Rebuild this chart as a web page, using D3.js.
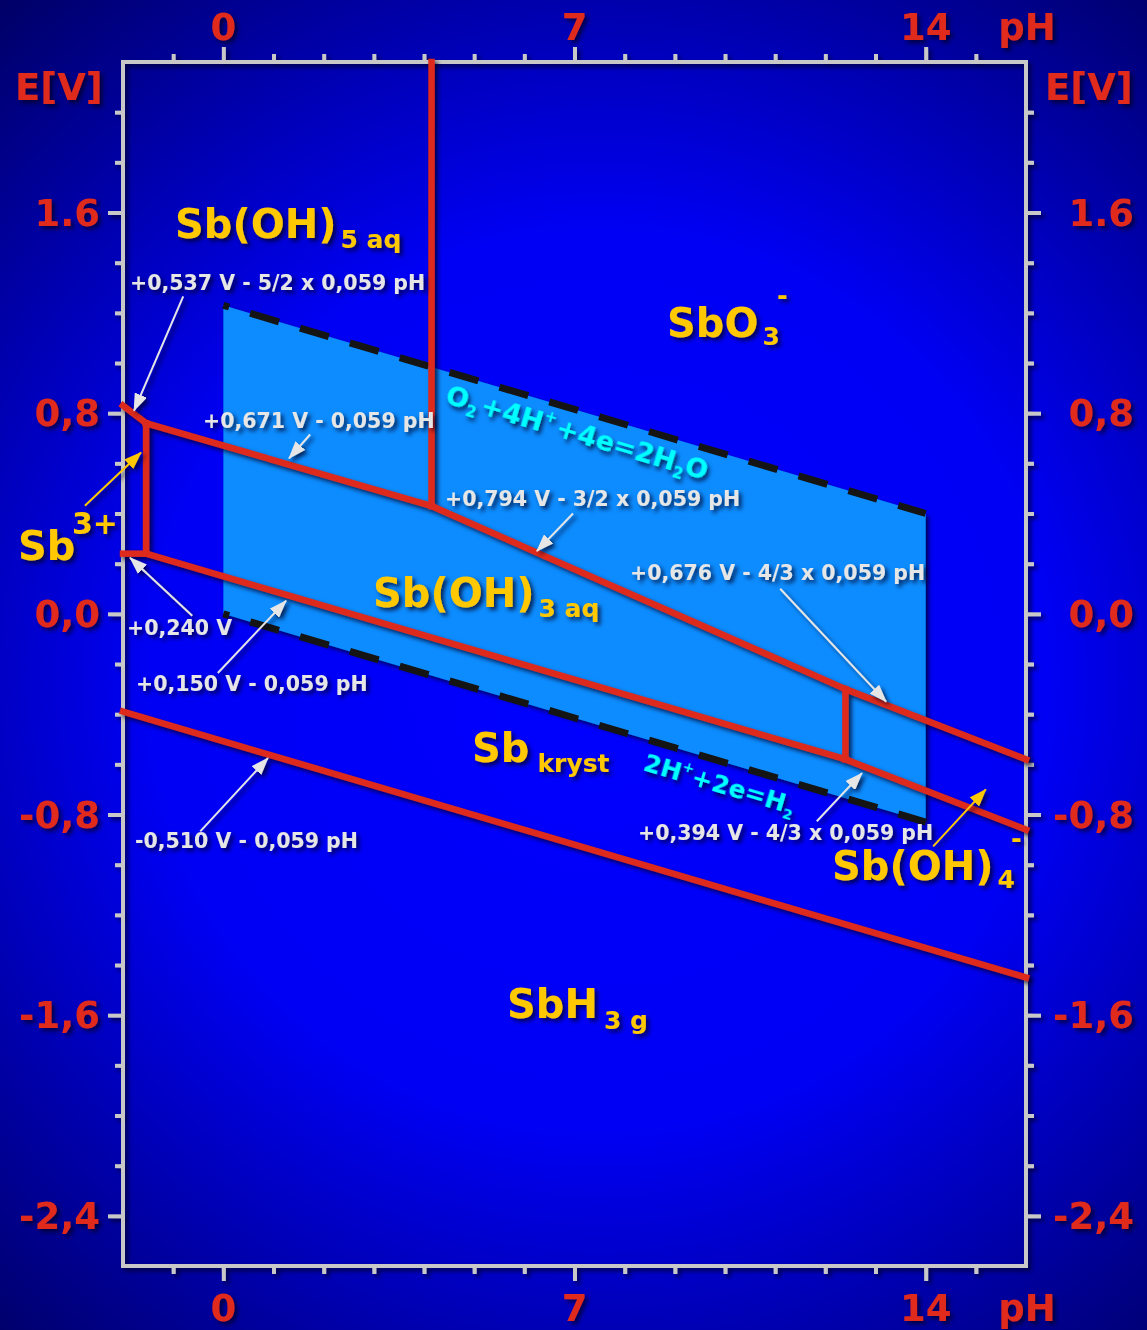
<!DOCTYPE html>
<html>
<head>
<meta charset="utf-8">
<script src="https://cdn.jsdelivr.net/npm/d3@7"></script>
<style>
  body { margin: 0; background: #000080; }
  svg { display: block; }
  text { font-family: "DejaVu Sans", Verdana, sans-serif; font-weight: bold; }
</style>
</head>
<body>
<div id="chart"></div>
<script>
// Pourbaix diagram of antimony (Sb) - E [V] vs pH

const width = 1147;
const height = 1330;

// axis values
const xMajorTicks = [0, 7, 14];
const yMajorTicks = [1.6, 0.8, 0, -0.8, -1.6, -2.4];
const yTickLabels = ["1.6", "0,8", "0,0", "-0,8", "-1,6", "-2,4"];

// water stability region (pH, E)
const waterO2 = [[0, 1.23], [14, 0.40]];
const waterH2 = [[0, 0.00], [14, -0.83]];

// phase boundaries (pH, E)
const bSb3Sb5   = [[-2, 0.83], [-1.54, 0.76]];
const bSb3Vert  = [[-1.54, 0.76], [-1.54, 0.24]];
const bSb3Sb    = [[-2, 0.24], [-1.54, 0.24]];
const bSb5Sb3aq = [[-1.54, 0.76], [4.15, 0.43]];
const bSb5SbO3  = [[4.15, 2.2], [4.15, 0.43]];
const bSbO3Sb3  = [[4.15, 0.43], [12.4, -0.30]];
const bSb3Sb4   = [[12.4, -0.30], [12.4, -0.58]];
const bSb3aqSb  = [[-1.54, 0.24], [12.4, -0.58]];
const bSbO3Sb4  = [[12.4, -0.30], [16, -0.58]];
const bSb4Sb    = [[12.4, -0.58], [16, -0.86]];
const bSbSbH3   = [[-2, -0.39], [16, -1.45]];

const boundaries = [bSb3Sb5, bSb3Vert, bSb3Sb, bSb5Sb3aq, bSb5SbO3, bSbO3Sb3,
                    bSb3Sb4, bSb3aqSb, bSbO3Sb4, bSb4Sb, bSbSbH3];

// equation labels: text and the arrow (tail, head) in pH / E
const eqLabels = ["+0,537 V - 5/2 x 0,059 pH", "+0,671 V - 0,059 pH",
                  "+0,794 V - 3/2 x 0,059 pH", "+0,676 V - 4/3 x 0,059 pH",
                  "+0,240 V", "+0,150 V - 0,059 pH",
                  "-0,510 V - 0,059 pH", "+0,394 V - 4/3 x 0,059 pH"];
const eqArrows = [[[-0.80, 1.266], [-1.78, 0.81]],
                  [[1.73, 0.715], [1.31, 0.62]],
                  [[6.97, 0.40], [6.25, 0.25]],
                  [[11.10, 0.10], [13.21, -0.35]],
                  [[-0.62, -0.008], [-1.86, 0.224]],
                  [[-0.11, -0.236], [1.25, 0.052]],
                  [[-0.46, -0.867], [0.89, -0.575]],
                  [[11.83, -0.827], [12.73, -0.635]]];
const speciesArrows = [[[-2.76, 0.431], [-1.64, 0.643]],
                       [[14.15, -0.927], [15.20, -0.70]]];

const svg = d3.select("#chart").append("svg")
    .attr("width", width)
    .attr("height", height);

const defs = svg.append("defs");
const bg = defs.append("radialGradient").attr("id", "bg")
    .attr("gradientUnits", "userSpaceOnUse")
    .attr("cx", 600).attr("cy", 680).attr("r", 900);
bg.append("stop").attr("offset", 0).attr("stop-color", "#0000ff");
bg.append("stop").attr("offset", 0.5).attr("stop-color", "#0000f4");
bg.append("stop").attr("offset", 1).attr("stop-color", "#000068");

const shadow = defs.append("filter").attr("id", "shadow")
    .attr("x", "-20%").attr("y", "-20%").attr("width", "140%").attr("height", "140%");
shadow.append("feDropShadow").attr("dx", 3).attr("dy", 3)
    .attr("stdDeviation", 2).attr("flood-color", "#000020").attr("flood-opacity", 0.75);

function addMarker(id, color) {
    defs.append("marker").attr("id", id)
        .attr("viewBox", "0 0 18 13").attr("refX", 17).attr("refY", 6.5)
        .attr("markerWidth", 18).attr("markerHeight", 13)
        .attr("markerUnits", "userSpaceOnUse").attr("orient", "auto")
        .append("path").attr("d", "M0,0 L18,6.5 L0,13 Z").attr("fill", color);
}
addMarker("arrowW", "#e6e6e6");
addMarker("arrowY", "#ffc800");

svg.append("rect").attr("width", width).attr("height", height).attr("fill", "url(#bg)");

const x = d3.scaleLinear().domain([-2, 16]).range([123, 1026]);
const y = d3.scaleLinear().domain([2.2, -2.6]).range([62, 1266]);
const line = d3.line().x(d => x(d[0])).y(d => y(d[1]));

// water region
const water = waterO2.concat(waterH2.slice().reverse());
svg.append("path").attr("d", line(water) + "Z")
    .attr("fill", "#0a8cff").attr("filter", "url(#shadow)");

[waterO2, waterH2].forEach(function(d) {
    svg.append("path").attr("d", line(d))
        .attr("fill", "none").attr("stroke", "#141414")
        .attr("stroke-width", 7).attr("stroke-dasharray", "30,22")
        .attr("stroke-dashoffset", 24);
});

// axes
const axisColor = "#c8c8c8";
const minorX = d3.range(-1, 16).filter(v => !xMajorTicks.includes(v));
const minorY = d3.range(-12, 11).map(v => +(v * 0.2).toFixed(1)).filter(v => !yMajorTicks.includes(v));

function styleAxis(g) {
    g.select(".domain").remove();
    g.selectAll("line").attr("stroke", axisColor).attr("stroke-width", 4);
    g.selectAll("text").remove();
}
const axes = svg.append("g").attr("filter", "url(#shadow)");
axes.append("g").attr("transform", `translate(0,${y.range()[0]})`)
    .call(d3.axisTop(x).tickValues(minorX).tickSize(8)).call(styleAxis);
axes.append("g").attr("transform", `translate(0,${y.range()[0]})`)
    .call(d3.axisTop(x).tickValues(xMajorTicks).tickSize(15)).call(styleAxis);
axes.append("g").attr("transform", `translate(0,${y.range()[1]})`)
    .call(d3.axisBottom(x).tickValues(minorX).tickSize(8)).call(styleAxis);
axes.append("g").attr("transform", `translate(0,${y.range()[1]})`)
    .call(d3.axisBottom(x).tickValues(xMajorTicks).tickSize(15)).call(styleAxis);
axes.append("g").attr("transform", `translate(${x.range()[0]},0)`)
    .call(d3.axisLeft(y).tickValues(minorY).tickSize(8)).call(styleAxis);
axes.append("g").attr("transform", `translate(${x.range()[0]},0)`)
    .call(d3.axisLeft(y).tickValues(yMajorTicks).tickSize(15)).call(styleAxis);
axes.append("g").attr("transform", `translate(${x.range()[1]},0)`)
    .call(d3.axisRight(y).tickValues(minorY).tickSize(8)).call(styleAxis);
axes.append("g").attr("transform", `translate(${x.range()[1]},0)`)
    .call(d3.axisRight(y).tickValues(yMajorTicks).tickSize(15)).call(styleAxis);
axes.append("rect")
    .attr("x", x.range()[0]).attr("y", y.range()[0])
    .attr("width", x.range()[1] - x.range()[0]).attr("height", y.range()[1] - y.range()[0])
    .attr("fill", "none").attr("stroke", axisColor).attr("stroke-width", 4);

// boundary lines
svg.append("g").attr("filter", "url(#shadow)")
    .selectAll("path").data(boundaries).join("path")
    .attr("d", line)
    .attr("fill", "none").attr("stroke", "#dd2a1e")
    .attr("stroke-width", 6.5).attr("stroke-linecap", "square");

// tick labels
const red = "#e02a1e";
const labels = svg.append("g").attr("filter", "url(#shadow)")
    .attr("fill", red).attr("font-size", 37);
labels.selectAll(".xt").data(xMajorTicks).join("text")
    .attr("x", d => x(d)).attr("y", 40).attr("text-anchor", "middle").text(d => d);
labels.selectAll(".xb").data(xMajorTicks).join("text")
    .attr("x", d => x(d)).attr("y", 1321).attr("text-anchor", "middle").text(d => d);
[40, 1321].forEach(function(yy) {
    labels.append("text").attr("x", 1027).attr("y", yy).attr("text-anchor", "middle").text("pH");
});
yMajorTicks.forEach(function(v, i) {
    labels.append("text").attr("x", 100).attr("y", y(v)).attr("dy", "0.36em")
        .attr("text-anchor", "end").text(yTickLabels[i]);
    labels.append("text").attr("x", 1134).attr("y", y(v)).attr("dy", "0.36em")
        .attr("text-anchor", "end").text(yTickLabels[i]);
});
labels.append("text").attr("x", 15).attr("y", 100).text("E[V]");
labels.append("text").attr("x", 1045).attr("y", 100).text("E[V]");

// species labels
const gold = "#ffc800";
const species = svg.append("g").attr("filter", "url(#shadow)").attr("fill", gold);
function speciesLabel(px, py, main, sub, sup, opts) {
    opts = opts || {};
    const t = species.append("text").attr("x", px).attr("y", py).attr("font-size", 40);
    t.append("tspan").text(main);
    if (sub) t.append("tspan").attr("dx", opts.subDx || 4).attr("dy", opts.subDy || 10)
        .attr("font-size", 25).text(sub);
    if (sup) {
        species.append("text").attr("x", opts.supX).attr("y", opts.supY)
            .attr("font-size", opts.supSize || 26).text(sup);
    }
}
speciesLabel(175, 238, "Sb(OH)", "5 aq");
speciesLabel(667, 337, "SbO", "3", "-", {supX: 777, supY: 305, subDy: 8});
speciesLabel(18, 560, "Sb", null, "3+", {supX: 72, supY: 534, supSize: 30});
speciesLabel(373, 607, "Sb(OH)", "3 aq");
speciesLabel(472, 762, "Sb", "kryst", null, {subDx: 8});
speciesLabel(832, 880, "Sb(OH)", "4", "-", {supX: 1011, supY: 848, subDy: 8});
speciesLabel(507, 1018, "SbH", "3 g", null, {subDx: 6, subDy: 11});

// water reactions (cyan, along the dashed lines)
const cyan = "#00ffff";
const angle = Math.atan2(y(waterO2[1][1]) - y(waterO2[0][1]), x(waterO2[1][0]) - x(waterO2[0][0])) * 180 / Math.PI;
const o2 = svg.append("text").attr("filter", "url(#shadow)").attr("fill", cyan).attr("font-size", 27)
    .attr("transform", `translate(444,403) rotate(${angle})`);
o2.append("tspan").text("O");
o2.append("tspan").attr("font-size", 15).attr("dy", 6).text("2");
o2.append("tspan").attr("dy", -6).attr("dx", 3).text("+4H");
o2.append("tspan").attr("font-size", 15).attr("dy", -12).text("+");
o2.append("tspan").attr("dy", 12).attr("dx", 2).text("+4e=2H");
o2.append("tspan").attr("font-size", 15).attr("dy", 6).text("2");
o2.append("tspan").attr("dy", -6).text("O");

const h2 = svg.append("text").attr("filter", "url(#shadow)").attr("fill", cyan).attr("font-size", 25)
    .attr("transform", `translate(642,770) rotate(${angle})`);
h2.append("tspan").text("2H");
h2.append("tspan").attr("font-size", 14).attr("dy", -11).text("+");
h2.append("tspan").attr("dy", 11).text("+2e=H");
h2.append("tspan").attr("font-size", 14).attr("dy", 6).text("2");

// equation labels + arrows
const eqPos = [[130, 290], [203, 428], [445, 506], [630, 580],
               [127, 635], [136, 691], [135, 848], [638, 840]];
const eq = svg.append("g").attr("filter", "url(#shadow)");
eq.selectAll("text").data(eqLabels).join("text")
    .attr("x", (d, i) => eqPos[i][0]).attr("y", (d, i) => eqPos[i][1])
    .attr("font-size", 20.5).attr("fill", "#e6e6e6").text(d => d);
eq.selectAll("line.w").data(eqArrows).join("line").attr("class", "w")
    .attr("x1", d => x(d[0][0])).attr("y1", d => y(d[0][1]))
    .attr("x2", d => x(d[1][0])).attr("y2", d => y(d[1][1]))
    .attr("stroke", "#e6e6e6").attr("stroke-width", 2).attr("marker-end", "url(#arrowW)");
eq.selectAll("line.y").data(speciesArrows).join("line").attr("class", "y")
    .attr("x1", d => x(d[0][0])).attr("y1", d => y(d[0][1]))
    .attr("x2", d => x(d[1][0])).attr("y2", d => y(d[1][1]))
    .attr("stroke", gold).attr("stroke-width", 2).attr("marker-end", "url(#arrowY)");
</script>
</body>
</html>
